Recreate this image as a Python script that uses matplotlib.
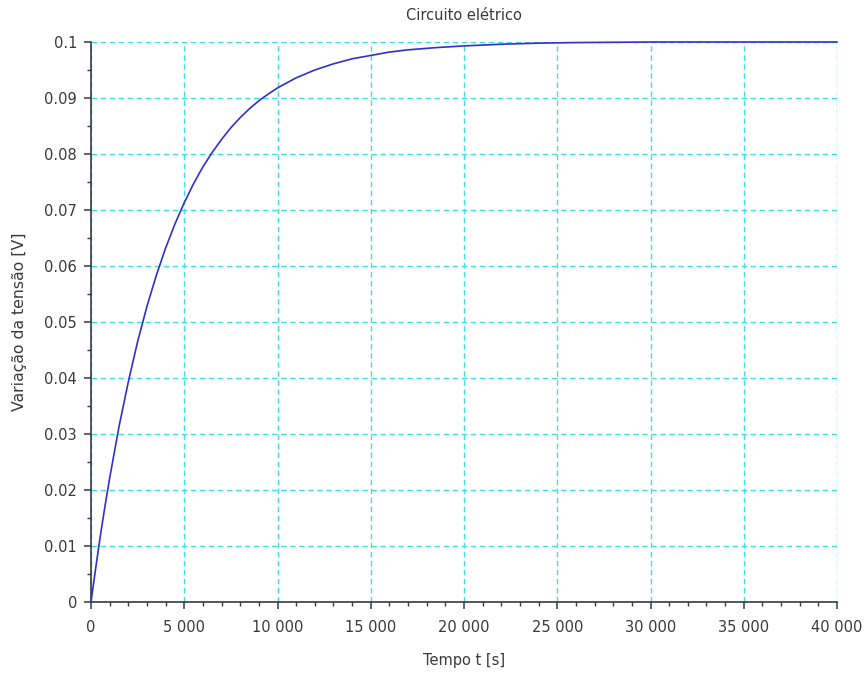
import matplotlib
matplotlib.use("Agg")
import matplotlib.pyplot as plt
from matplotlib.ticker import MultipleLocator, FuncFormatter

# Valores (tempo em s, tensão em V)
tempo = [0, 250, 500, 750, 1000, 1500, 2000, 2500, 3000, 3500, 4000, 4500,
         5000, 5500, 6000, 6500, 7000, 7500, 8000, 8500, 9000, 9500, 10000,
         11000, 12000, 13000, 14000, 15000, 16000, 17000, 18500, 20000,
         22000, 24000, 26000, 30000, 35000, 40000]
tensao = [0.0, 0.0060, 0.0118, 0.0171, 0.0221, 0.0313, 0.0393, 0.0465,
          0.0528, 0.0583, 0.0632, 0.0675, 0.0713, 0.0747, 0.0777, 0.0803,
          0.0826, 0.0847, 0.0865, 0.0881, 0.0895, 0.0907, 0.0918, 0.0936,
          0.0950, 0.0961, 0.0970, 0.0976, 0.0982, 0.0986, 0.0990, 0.0993,
          0.0996, 0.0998, 0.0999, 0.1, 0.1, 0.1]

titulo = "Circuito elétrico"
rotulo_x = "Tempo t [s]"
rotulo_y = "Variação da tensão [V]"

COR_TEXTO = "#3a3a3a"
COR_GRADE = "#3fe0e0"
COR_LINHA = "#3030d0"

plt.rcParams["font.family"] = ["DejaVu Sans"]

fig = plt.figure(figsize=(8.68, 6.76), dpi=100)
fig.patch.set_facecolor("white")
ax = fig.add_axes([91 / 868, 74 / 676, 746 / 868, 560 / 676])

ax.plot(tempo, tensao, color=COR_LINHA, linewidth=1.2, clip_on=False, zorder=3)

ax.set_xlim(0, 40000)
ax.set_ylim(0, 0.1)

ax.xaxis.set_major_locator(MultipleLocator(5000))
ax.xaxis.set_minor_locator(MultipleLocator(1000))
ax.yaxis.set_major_locator(MultipleLocator(0.01))
ax.yaxis.set_minor_locator(MultipleLocator(0.005))
ax.xaxis.set_major_formatter(FuncFormatter(lambda v, p: f"{int(round(v)):,}".replace(",", " ")))
ax.yaxis.set_major_formatter(FuncFormatter(lambda v, p: "0" if abs(v) < 1e-12 else f"{v:.2f}".rstrip("0")))

ax.grid(True, which="major", color=COR_GRADE, linestyle=(0, (4, 2.5)), linewidth=1.0)
ax.set_axisbelow(True)

for lado in ("top", "right"):
    ax.spines[lado].set_visible(False)
for lado in ("left", "bottom"):
    ax.spines[lado].set_color(COR_TEXTO)
    ax.spines[lado].set_linewidth(1.2)

ax.tick_params(which="major", direction="out", length=5, width=1.1,
               color=COR_TEXTO, labelcolor=COR_TEXTO, labelsize=10.5, pad=5)
ax.tick_params(axis="x", which="major", pad=8)
ax.tick_params(which="minor", direction="out", length=3, width=1.0, color=COR_TEXTO)

# títulos posicionados em pixels da figura
fig.text(464 / 868, 1 - 16 / 676, titulo, fontsize=10.5, color=COR_TEXTO,
         ha="center", va="center")
fig.text(464 / 868, 1 - 661 / 676, rotulo_x, fontsize=10.5, color=COR_TEXTO,
         ha="center", va="center")
fig.text(20 / 868, 1 - 322 / 676, rotulo_y, fontsize=11.3, color=COR_TEXTO,
         ha="center", va="center", rotation=90)

fig.savefig("out.png", dpi=100, facecolor="white")
